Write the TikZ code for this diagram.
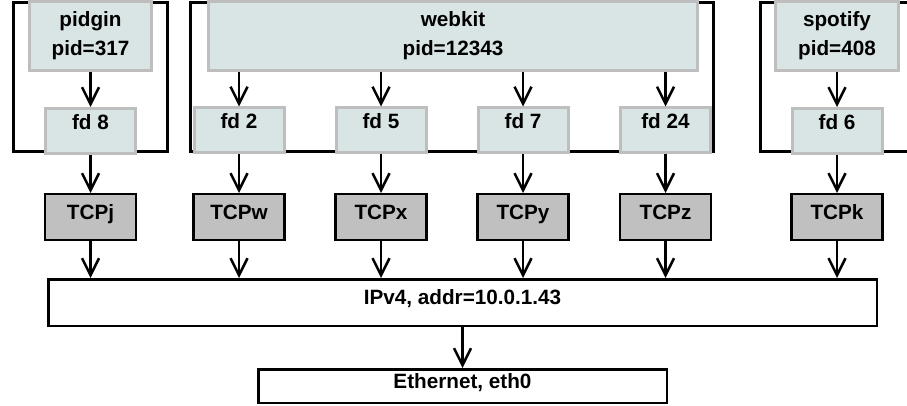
\documentclass[tikz,border=0pt]{standalone}
\usepackage{fontspec}
\setmainfont{Liberation Sans}
\usetikzlibrary{arrows.meta}
\definecolor{procfill}{RGB}{217,229,229}
\definecolor{procdraw}{RGB}{190,190,190}
\definecolor{tcpfill}{RGB}{192,192,192}
\tikzset{
  every node/.style={font=\fontsize{20.7}{29}\selectfont\bfseries, inner sep=0pt},
  proc/.style={draw=procdraw, fill=procfill, line width=3pt, align=center},
  fdbox/.style={draw=procdraw, fill=procfill, line width=3pt, minimum width=90pt, minimum height=45pt, text height=14.8pt, text depth=18pt},
  tcpbox/.style={draw=black, fill=tcpfill, line width=2.5pt, minimum width=91pt, minimum height=45.5pt, text height=14.8pt, text depth=10pt},
  layer/.style={draw=black, fill=white, line width=2.5pt},
  group/.style={draw=black, line width=3pt},
  arr/.style={line width=2.5pt, -{Straight Barb[length=17pt, width=17pt, line width=2.5pt]}},
}
\begin{document}
\begin{tikzpicture}[x=1pt, y=-1pt]
\useasboundingbox (0,0) rectangle (907,406);
\clip (0,0) rectangle (907,406);
% group brackets
\draw[group] (13,3) rectangle (167,152);
\draw[group] (190,3) rectangle (713,152);
\draw[group] (760,3) rectangle (930,152);
% process nodes
\node[proc, minimum width=122pt, minimum height=69pt] (pidgin) at (90.5,36) {pidgin\\pid=317};
\node[proc, minimum width=489pt, minimum height=69pt] (webkit) at (453,36) {webkit\\pid=12343};
\node[proc, minimum width=123pt, minimum height=69pt] (spotify) at (837,36) {spotify\\pid=408};
% fd nodes
\node[fdbox] (fd8) at (90.5,131) {fd 8};
\node[fdbox] (fd2) at (239,130.5) {fd 2};
\node[fdbox] (fd5) at (381,130.5) {fd 5};
\node[fdbox] (fd7) at (523,130.5) {fd 7};
\node[fdbox] (fd24) at (665.5,130.5) {fd 24};
\node[fdbox] (fd6) at (837,131) {fd 6};
% tcp nodes
\node[tcpbox] (tcpj) at (90.5,217) {TCPj};
\node[tcpbox] (tcpw) at (239,217) {TCPw};
\node[tcpbox] (tcpx) at (381,217) {TCPx};
\node[tcpbox] (tcpy) at (523,217) {TCPy};
\node[tcpbox] (tcpz) at (665.5,217) {TCPz};
\node[tcpbox] (tcpk) at (837,217) {TCPk};
% layers
\node[layer, minimum width=828.5pt, minimum height=46.5pt, text height=14.8pt, text depth=10pt] (ipv4) at (462.5,302.5) {IPv4, addr=10.0.1.43};
\node[layer, minimum width=408.5pt, minimum height=33.5pt, text height=14.8pt, text depth=9.4pt] (eth) at (462.5,386) {Ethernet, eth0};
% arrows
\draw[arr] (pidgin.south) -- (fd8.north);
\draw[arr] (spotify.south) -- (fd6.north);
\foreach \f in {fd2,fd5,fd7,fd24} \draw[arr] (webkit.south -| \f.north) -- (\f.north);
\draw[arr] (fd8.south) -- (tcpj.north);
\draw[arr] (fd2.south) -- (tcpw.north);
\draw[arr] (fd5.south) -- (tcpx.north);
\draw[arr] (fd7.south) -- (tcpy.north);
\draw[arr] (fd24.south) -- (tcpz.north);
\draw[arr] (fd6.south) -- (tcpk.north);
\foreach \t in {tcpj,tcpw,tcpx,tcpy,tcpz,tcpk} \draw[arr] (\t.south) -- (\t.south |- ipv4.north);
\draw[arr] (ipv4.south) -- (eth.north);
\end{tikzpicture}
\end{document}
